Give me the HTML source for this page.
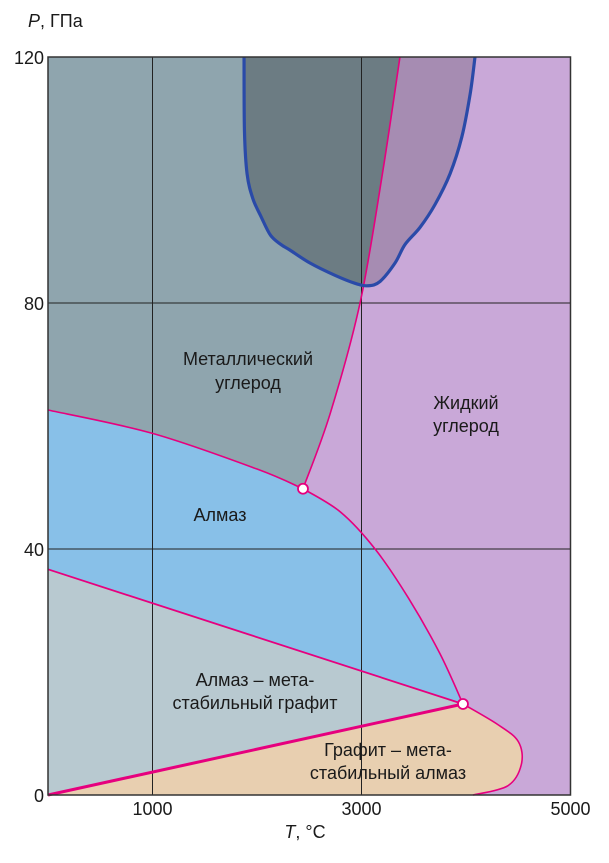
<!DOCTYPE html>
<html><head><meta charset="utf-8"><style>
body{margin:0;background:#fff;}
svg{display:block;font-family:"Liberation Sans","Noto Sans CJK SC",sans-serif;}
</style></head><body>
<svg id="chart" width="609" height="863" viewBox="0 0 609 863">
<defs><clipPath id="metalClip"><path id="metalClipPath"/></clipPath></defs>
<g id="regions"></g>
<g id="grid"></g>
<g id="lines"></g>
<g id="labels"></g>
</svg>
<script>
const xTicks=[0,1000,3000,5000];
const yTicks=[0,40,80,120];
const gridT=[1000,3000];
const gridP=[40,80];
const metalLiquid=[[2440,49.8],[2700,62],[2986,80],[3200,101],[3368,120]];
const diamondMetal=[[0,62.6],[1000,58.8],[2000,53],[2440,49.8]];
const diamondMelt=[[2440,49.8],[2800,46],[3130,40],[3450,32],[3750,23],[3971,14.8]];
const metastableLine=[[0,36.7],[3971,14.8]];
const graphiteDiamond=[[0,0],[3971,14.8]];
const graphiteMelt=[[3971,14.8],[4300,11.5],[4500,8.7],[4530,5],[4400,1.5],[4067,0]];
const contour=[[1876,120],[1880,108],[1905,101],[1960,97],[2040,94],[2130,91],[2230,89.5],[2316,88.6],[2507,86.5],[2746,84.5],[2938,83.2],[3062,82.8],[3177,83.5],[3321,86.5],[3416,89.5],[3560,92.3],[3703,96],[3847,101],[3960,107],[4040,114],[4086,120]];

const x=T=>48+0.1045*T, y=P=>795-6.15*P;
const pts=a=>a.map(p=>x(p[0]).toFixed(1)+','+y(p[1]).toFixed(1));
const NS='http://www.w3.org/2000/svg';
function smooth(a){const p=a.map(q=>[x(q[0]),y(q[1])]);let d='M'+p[0][0]+','+p[0][1];
 for(let i=0;i<p.length-1;i++){const p0=p[i-1]||p[i],p1=p[i],p2=p[i+1],p3=p[i+2]||p2;
 d+=' C'+(p1[0]+(p2[0]-p0[0])/6)+','+(p1[1]+(p2[1]-p0[1])/6)+' '+(p2[0]-(p3[0]-p1[0])/6)+','+(p2[1]-(p3[1]-p1[1])/6)+' '+p2[0]+','+p2[1];}return d;}
function cont(a){return smooth(a).replace(/^M/,' L');}
function rev(a){return a.slice().reverse();}
function add(g,tag,attrs,name){const e=document.createElementNS(NS,tag);for(const k in attrs)e.setAttribute(k,attrs[k]);
 
 
 document.getElementById(g).appendChild(e);return e;}
add('regions','rect',{x:x(0),y:y(120),width:x(5000)-x(0),height:y(0)-y(120),fill:'#c9a8d8'},'liquid-carbon-region');
const metalD='M'+x(0)+','+y(120)+' L'+x(3368)+','+y(120)+cont(rev(metalLiquid))+cont(rev(diamondMetal))+' Z';
add('regions','path',{d:metalD,fill:'#8fa5ae'},'metallic-carbon-region');
document.getElementById('metalClipPath').setAttribute('d',metalD);
add('regions','path',{d:smooth(diamondMetal)+cont(diamondMelt)+' L'+x(0)+','+y(36.7)+' Z',fill:'#88c0e8'},'diamond-region');
add('regions','path',{d:'M'+pts(metastableLine).join(' L')+' L'+x(0)+','+y(0)+' Z',fill:'#b8c9d0'},'diamond-metastable-graphite-region');
add('regions','path',{d:'M'+pts(graphiteDiamond).join(' L')+cont(graphiteMelt)+' Z',fill:'#e8cfb0'},'graphite-metastable-diamond-region');
const cD=smooth(contour)+' Z';
add('regions','path',{d:cD,fill:'#a68cb2'},'contour-liquid-part');
add('regions','path',{d:cD,fill:'#6c7c83','clip-path':'url(#metalClip)'},'contour-metal-part');
gridT.forEach(t=>add('grid','line',{x1:x(t),x2:x(t),y1:y(0),y2:y(120),stroke:'#222','stroke-width':1},'grid-line-t'));
gridP.forEach(p=>add('grid','line',{x1:x(0),x2:x(5000),y1:y(p),y2:y(p),stroke:'#222','stroke-width':1},'grid-line-p'));
const M='#e6007e';
add('lines','path',{d:smooth(metalLiquid),fill:'none',stroke:M,'stroke-width':1.6},'metal-liquid-boundary');
add('lines','path',{d:smooth(diamondMetal),fill:'none',stroke:M,'stroke-width':1.6},'diamond-metal-boundary');
add('lines','path',{d:smooth(diamondMelt),fill:'none',stroke:M,'stroke-width':1.6},'diamond-melting-curve');
add('lines','path',{d:'M'+pts(metastableLine).join(' L'),fill:'none',stroke:M,'stroke-width':1.8},'metastable-boundary');
add('lines','path',{d:'M'+pts(graphiteDiamond).join(' L'),fill:'none',stroke:M,'stroke-width':3},'graphite-diamond-boundary');
add('lines','path',{d:smooth(graphiteMelt),fill:'none',stroke:M,'stroke-width':1.6},'graphite-melting-curve');
add('lines','path',{d:smooth(contour),fill:'none',stroke:'#2a4aa8','stroke-width':3.2},'metallic-region-contour');
add('lines','rect',{x:x(0),y:y(120),width:x(5000)-x(0),height:y(0)-y(120),fill:'none',stroke:'#333','stroke-width':1.5},'plot-frame');
add('lines','circle',{cx:x(2440),cy:y(49.8),r:5,fill:'#fff',stroke:M,'stroke-width':1.8},'triple-point-upper');
add('lines','circle',{cx:x(3971),cy:y(14.8),r:5,fill:'#fff',stroke:M,'stroke-width':1.8},'triple-point-lower');
function txt(s,xx,yy,anchor,name,size){const e=add('labels','text',{x:xx,y:yy,'text-anchor':anchor,'font-size':size||18,fill:'#1a1a1a'},name);e.textContent=s;return e;}
yTicks.forEach(p=>txt(String(p),44,y(p)+7,'end','y-tick-label'));
xTicks.filter(t=>t>0).forEach(t=>txt(String(t),x(t),815,'middle','x-tick-label'));
const yl=txt('',28,27,'start','y-axis-title');yl.innerHTML='<tspan font-style="italic">P</tspan>, ГПа';
const xl=txt('',305,838,'middle','x-axis-title');xl.innerHTML='<tspan font-style="italic">T</tspan>, °C';
txt('Металлический',248,365,'middle','metallic-label-1',18);txt('углерод',248,389,'middle','metallic-label-2',18);
txt('Жидкий',466,409,'middle','liquid-label-1',18);txt('углерод',466,432,'middle','liquid-label-2',18);
txt('Алмаз',220,521,'middle','diamond-label',18);
txt('Алмаз – мета-',255,686,'middle','metastable-label-1',18);txt('стабильный графит',255,709,'middle','metastable-label-2',18);
txt('Графит – мета-',388,756,'middle','graphite-label-1',18);txt('стабильный алмаз',388,779,'middle','graphite-label-2',18);
</script>
</body></html>
